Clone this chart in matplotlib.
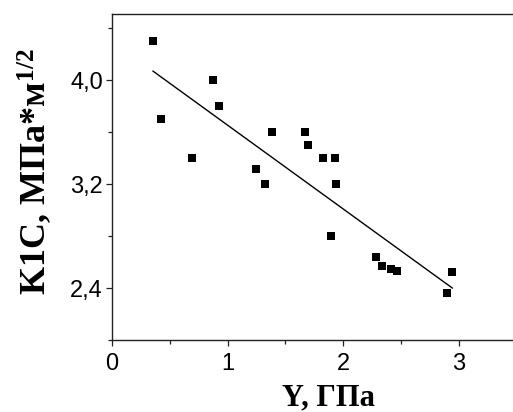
import matplotlib
matplotlib.use("Agg")
import matplotlib.pyplot as plt
from matplotlib.ticker import MultipleLocator, FixedLocator

# Data
y_gpa = [0.352, 0.421, 0.692, 0.874, 0.926, 1.243, 1.324, 1.382, 1.667, 1.693,
         1.826, 1.927, 1.935, 1.895, 2.284, 2.333, 2.414, 2.466, 2.895, 2.944]
k1c = [4.30, 3.70, 3.40, 4.00, 3.80, 3.32, 3.20, 3.60, 3.60, 3.50,
       3.40, 3.40, 3.20, 2.80, 2.64, 2.57, 2.55, 2.53, 2.36, 2.52]
fit_x = [0.355, 2.944]
fit_y = [4.07, 2.40]

x_ticks = [0, 1, 2, 3]
y_ticks = [2.4, 3.2, 4.0]
y_tick_labels = ["2,4", "3,2", "4,0"]

plt.rcParams['mathtext.fontset'] = 'custom'
plt.rcParams['mathtext.rm'] = 'Liberation Serif:bold'
plt.rcParams['mathtext.bf'] = 'Liberation Serif:bold'
plt.rcParams['mathtext.it'] = 'Liberation Serif:bold'

fig = plt.figure(figsize=(5.13, 4.12), dpi=100)
ax = fig.add_axes([112/513, (412-340)/412, 404.6/513, (340-14)/412])

ax.plot(y_gpa, k1c, linestyle='none', marker='s', markersize=5.2,
        color='black', markeredgewidth=0)
ax.plot(fit_x, fit_y, color='black', linewidth=1.0)

ax.set_xlim(0, 3.5)
ax.set_ylim(2.0, 4.51)

ax.xaxis.set_major_locator(FixedLocator(x_ticks))
ax.xaxis.set_minor_locator(MultipleLocator(0.5))
ax.yaxis.set_major_locator(FixedLocator(y_ticks))
ax.set_yticklabels(y_tick_labels)
ax.yaxis.set_minor_locator(FixedLocator([2.0, 2.8, 3.6, 4.4]))

for sp in ax.spines.values():
    sp.set_linewidth(1.0)
    sp.set_color('#222222')
ax.spines['right'].set_visible(False)

ax.tick_params(which='major', direction='out', length=4.5, width=0.9,
               labelsize=17, pad=2, color='#222222')
ax.tick_params(which='minor', direction='out', length=2.8, width=0.9,
               color='#222222')
for lab in ax.get_xticklabels() + ax.get_yticklabels():
    lab.set_fontfamily('Liberation Sans')
ax.tick_params(axis='x', pad=5)

fig.text(328/513, (412-398)/412, "Y, ГПа",
         fontfamily='Liberation Serif', fontweight='bold', fontsize=22,
         ha='center', va='center')
fig.text(35/513, (412-172)/412, r"K1C, МПа*м$^{\mathbf{1/2}}$",
         fontfamily='Liberation Serif', fontweight='bold', fontsize=26,
         rotation=90, ha='center', va='center')

fig.savefig("out.png", dpi=100)
